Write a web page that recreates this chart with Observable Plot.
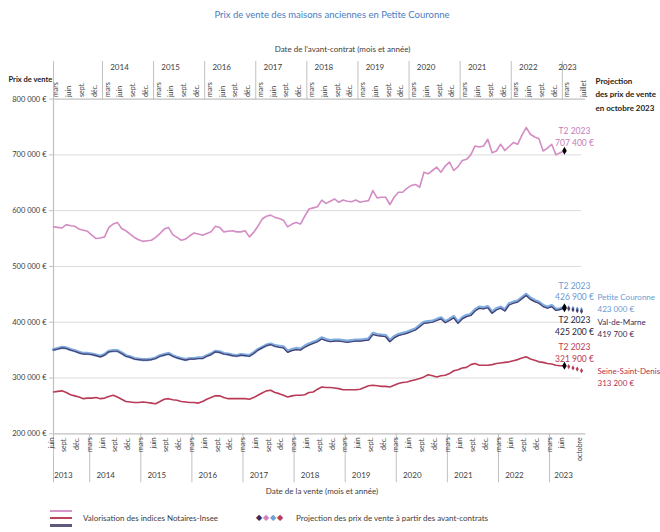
<!DOCTYPE html>
<html><head><meta charset="utf-8">
<script src="https://cdn.jsdelivr.net/npm/d3@7"></script>
<script src="https://cdn.jsdelivr.net/npm/@observablehq/plot@0.6"></script>
<style>
body{margin:0;background:#fff;font-family:Lato,"Open Sans",sans-serif;}
#wrap{position:relative;width:660px;height:532px;overflow:hidden;}
#title{position:absolute;top:9px;left:4px;width:656px;text-align:center;font-size:9.5px;color:#4a7cc0;}
#chart{position:absolute;top:30px;left:0;}
.leg{position:absolute;font-size:8px;color:#404040;white-space:nowrap;}
.sw{position:absolute;height:2px;width:22px;left:50px;}
</style></head>
<body><div id="wrap">
<div id="title">Prix de vente des maisons anciennes en Petite Couronne</div>
<div id="chart"></div>
<div class="sw" style="top:510px;background:#d896c8"></div>
<div class="sw" style="top:517px;background:#c0415c"></div>
<div class="sw" style="top:524px;height:3px;background:#5f5a7a"></div>
<div class="leg" style="top:513px;left:83px">Valorisation des indices Notaires-Insee</div>
<div class="leg" style="top:512px;left:256px;font-size:8px;letter-spacing:1px"><span style="color:#3b2a5a">◆</span><span style="color:#d27fc0">◆</span><span style="color:#6fa0d8">◆</span><span style="color:#c0394f">◆</span></div>
<div class="leg" style="top:513px;left:296px">Projection des prix de vente à partir des avant-contrats</div>
</div>
<script>
// Monthly values (k€), index 0 = juin 2013 (date de la vente) ... 120 = juin 2023
const hautsDeSeine = [571,570,569,575,573,572,567,565,563,556,550,551,553,570,576,579,568,564,558,552,548,545,546,547,552,559,567,570,557,552,547,549,555,560,558,556,559,562,572,570,562,563,564,562,562,564,553,561,572,585,590,592,588,586,583,571,576,579,576,590,603,605,607,619,613,617,621,615,619,617,616,619,615,617,618,636,623,624,624,611,624,633,633,640,645,647,642,669,666,672,678,669,680,687,672,679,690,692,700,716,714,716,728,704,707,719,708,715,722,719,735,749,737,732,729,707,712,719,700,704,707.4];
const petiteCouronne = [351,353,355,354,351,349,346,344,344,343,341,339,342,348,349,349,345,340,338,335,334,333,333,334,336,340,342,344,340,337,335,333,335,335,336,336,340,343,348,347,344,343,341,340,342,341,340,345,351,355,359,361,358,357,356,348,351,353,352,357,361,364,367,372,369,367,368,368,367,366,367,368,368,369,370,380,378,377,376,367,374,378,380,382,385,388,394,400,401,402,405,408,401,405,410,400,408,412,414,422,427,426,428,418,424,427,422,433,436,438,444,450,443,439,436,430,427,430,423,424,426.9];
const valDeMarne = [350,352,354,353,350,348,345,343,343,342,340,338,341,347,348,348,344,339,337,334,333,332,332,333,335,339,341,343,339,336,334,332,334,334,335,335,339,342,347,346,343,342,340,339,341,340,339,344,350,354,358,360,357,355,354,346,349,351,350,355,359,362,365,370,367,365,366,366,365,364,365,366,366,367,368,378,376,375,374,365,372,376,378,380,383,386,392,398,399,400,403,406,399,403,408,398,406,410,412,420,425,424,426,416,422,425,420,431,434,436,442,448,441,437,434,428,425,428,421,423,425.2];
const seineSaintDenis = [275,276,277,274,270,268,266,263,264,264,265,263,264,267,269,266,262,258,257,256,256,257,256,255,254,258,262,263,261,260,258,257,256,256,255,258,262,265,268,268,265,263,263,263,263,263,262,265,269,273,277,278,274,272,269,266,268,269,269,270,274,275,280,284,283,283,282,281,279,279,279,279,280,283,286,287,286,285,285,284,287,290,292,293,295,297,299,302,306,304,302,304,305,308,313,315,318,319,324,326,323,323,323,324,326,327,328,329,331,333,336,338,334,332,329,328,326,325,323,322,321.9];
// Projections (k€), juillet..octobre 2023 (index 121..124)
const projPC = [426, 425, 424, 423.0];
const projVdM = [424, 422.5, 421, 419.7];
const projSSD = [320.5, 318, 316, 313.2];

const yTicks = [200000,300000,400000,500000,600000,700000,800000];
const bottomMonths = ["juin","sept.","déc.",
  ...Array(9).fill(["mars","juin","sept.","déc."]).flat(),
  "mars","juin","octobre"];
const topMonths = [...Array(10).fill(["mars","juin","sept.","déc."]).flat(),"mars","juillet"];
const bottomYears = ["2013","2014","2015","2016","2017","2018","2019","2020","2021","2022","2023"];
const topYears = ["2014","2015","2016","2017","2018","2019","2020","2021","2022","2023"];

const colors = {hds:"#d48cc4", pc:"#7eabe0", vdm:"#463d6c", ssd:"#b93a56"};

const mk = (arr) => arr.map((v,i)=>({i, v:v*1000}));
const bm = bottomMonths.map((t,n)=>({t, i: n===bottomMonths.length-1?124:3*n}));
const tm = topMonths.map((t,n)=>({t, i: n===topMonths.length-1?124:3*n}));
const by = bottomYears.map((t,k)=>({t, i: k===0?2.3:(k===10?119.8:12.25+12*(k-1))}));
const ty = topYears.map((t,k)=>({t, i: k===9?120.7:15.5+12*k}));
const bottomSeps = [0, ...d3.range(9).map(k=>8.5+12*k), 116.5];
const topSeps = [0, ...d3.range(9).map(k=>11.5+12*k), 119.5];

const fmt = d => d3.format(",")(d).replace(/,/g," ") + " €";
const proj = (arr) => arr.map((v,k)=>({i:121+k, v:v*1000}));

const t2 = [
  {i:120, v:707400, text:"T2 2023\n707 400 €", c:"#c77dba", dy:-15},
  {i:120, v:426900, text:"T2 2023\n426 900 €", c:"#6b9bd3", dy:-16.5},
  {i:120, v:425200, text:"T2 2023\n425 200 €", c:"#2b2238", dy:17},
  {i:120, v:321900, text:"T2 2023\n321 900 €", c:"#c0394f", dy:-13.5}
];
const right = [
  {i:124, v:423000, text:"Petite Couronne\n423 000 €", c:"#6b9bd3", dy:-7},
  {i:124, v:419700, text:"Val-de-Marne\n419 700 €", c:"#3b2a55", dy:16},
  {i:124, v:313200, text:"Seine-Saint-Denis\n313 200 €", c:"#b5304f", dy:5.5}
];

const chart = Plot.plot({
  width: 660, height: 470,
  marginLeft: 53, marginRight: 79, marginTop: 68.6, marginBottom: 66.7,
  x: {domain:[0,124], axis:null},
  y: {domain:[200000,800000], axis:null},
  style: {fontFamily:"Lato, 'Open Sans', sans-serif", color:"#404040", background:"transparent", overflow:"visible"},
  marks: [
    Plot.ruleY(yTicks.slice(1,-1), {stroke:"#dcdcdc", strokeWidth:1}),
    Plot.ruleY([200000,800000], {x1:0, x2:125, stroke:"#c0c0c0", strokeWidth:1.2}),
    Plot.ruleX([0], {stroke:"#c0c0c0", strokeWidth:1.2}),
    Plot.axisY(yTicks, {tickFormat:fmt, tickSize:4, tickPadding:3, fontSize:7.5, stroke:"#c0c0c0", label:null}),
    Plot.axisX(bottomSeps, {anchor:"bottom", tickSize:49, tickFormat:()=>"", stroke:"#c0c0c0", label:null}),
    Plot.axisX(topSeps, {anchor:"top", tickSize:38.6, tickFormat:()=>"", stroke:"#c0c0c0", label:null}),
    Plot.text(bm, {x:"i", text:"t", frameAnchor:"bottom", rotate:-90, textAnchor:"end", dy:3.5, fontSize:7}),
    Plot.text(tm, {x:"i", text:"t", frameAnchor:"top", rotate:-90, textAnchor:"start", dy:-2, fontSize:7}),
    Plot.text(by, {x:"i", text:"t", frameAnchor:"bottom", dy:44, fontSize:8}),
    Plot.text(ty, {x:"i", text:"t", frameAnchor:"top", dy:-34.6, fontSize:8}),
    Plot.text(["Date de la vente (mois et année)"], {frameAnchor:"bottom", dx:4.5, dy:60, fontSize:8}),
    Plot.text(["Date de l'avant-contrat (mois et année)"], {frameAnchor:"top", dx:25, dy:-52.6, fontSize:8}),
    Plot.text(["Prix de vente"], {frameAnchor:"top-left", textAnchor:"start", dx:-45, dy:-22.6, fontSize:7.5, fontWeight:"bold", fill:"#222"}),
    Plot.text(["Projection\ndes prix de vente\nen octobre 2023"], {frameAnchor:"top-right", textAnchor:"start", dx:14, dy:-25, fontSize:8, fontWeight:"bold", lineHeight:1.7, fill:"#222"}),
    Plot.line(mk(hautsDeSeine), {x:"i", y:"v", stroke:colors.hds, strokeWidth:1.6}),
    Plot.line(mk(seineSaintDenis), {x:"i", y:"v", stroke:colors.ssd, strokeWidth:1.6}),
    Plot.line(mk(petiteCouronne), {x:"i", y:"v", stroke:colors.pc, strokeWidth:3.2}),
    Plot.line(mk(valDeMarne), {x:"i", y:"v", stroke:colors.vdm, strokeWidth:1.2}),
    Plot.dot(proj(projPC), {x:"i", y:"v", symbol:"diamond", r:1.6, fill:colors.pc}),
    Plot.dot(proj(projVdM), {x:"i", y:"v", symbol:"diamond", r:1.6, fill:colors.vdm}),
    Plot.dot(proj(projSSD), {x:"i", y:"v", symbol:"diamond", r:1.6, fill:colors.ssd}),
    Plot.dot(t2, {x:"i", y:"v", symbol:"diamond", r:2.4, fill:"#000"}),
    ...t2.map(d => Plot.text([d], {x:"i", y:"v", text:"text", fill:"c", dx:10, dy:d.dy, fontSize:8.5, lineHeight:1.4})),
    ...right.map(d => Plot.text([d], {x:"i", y:"v", text:"text", fill:"c", dx:16, dy:d.dy, textAnchor:"start", fontSize:8, lineHeight:1.45}))
  ]
});
document.getElementById("chart").appendChild(chart);
</script>
</body></html>
